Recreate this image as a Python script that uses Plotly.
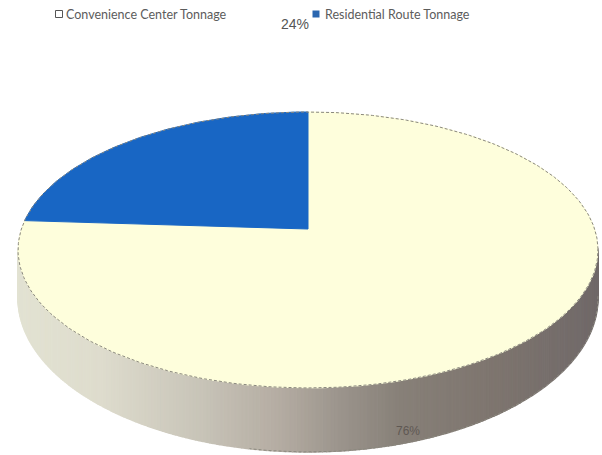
import numpy as np
import plotly.graph_objects as go

categories = ["Convenience Center Tonnage", "Residential Route Tonnage"]
shares = [76, 24]
labels = ["76%", "24%"]
colors = ["#FEFEDC", "#1866C4"]

CX, CY, A, B, P, DEPTH = 308, 229, 286.6, 134.8, 0.152, 46


def rim(theta_deg, drop=False):
    t = np.radians(np.asarray(theta_deg, dtype=float))
    u, v = np.sin(t), np.cos(t)
    w = 1 + P * v
    x = CX + A * u / w
    y = CY - B * v / w
    if drop:
        y = y + DEPTH / w ** 2
    return x, y


def side_color(x):
    px = [20, 100, 200, 280, 340, 400, 500, 597]
    r = [226, 222, 200, 180, 155, 135, 125, 112]
    g = [226, 220, 196, 172, 148, 128, 116, 105]
    b = [210, 205, 184, 162, 140, 120, 110, 105]
    return f"rgb({np.interp(x, px, r):.0f},{np.interp(x, px, g):.0f},{np.interp(x, px, b):.0f})"


fig = go.Figure()

# Side wall, split into narrow strips for the horizontal shading
edges = np.linspace(-262, -98, 261)
for a0, a1 in zip(edges[:-1], edges[1:]):
    th = np.linspace(a0, a1, 3)
    xt, yt = rim(th)
    xb, yb = rim(th, drop=True)
    col = side_color(float(xt.mean()))
    fig.add_trace(go.Scatter(
        x=np.r_[xt, xb[::-1]], y=np.r_[yt, yb[::-1]], mode="lines", fill="toself",
        fillcolor=col, line=dict(color=col, width=1.5), hoverinfo="skip", showlegend=False))

# Top face slices, from the shares
residential_end = 360 * shares[1] / sum(shares)
th_res = np.linspace(-residential_end, 0, 80)
th_conv = np.linspace(0, 360 - residential_end, 240)
for th, col in ((th_conv, colors[0]), (th_res, colors[1])):
    x, y = rim(th)
    fig.add_trace(go.Scatter(
        x=np.r_[CX, x, CX], y=np.r_[CY, y, CY], mode="lines", fill="toself",
        fillcolor=col, line=dict(color=col, width=1), hoverinfo="skip", showlegend=False))

# Dashed outlines
x, y = rim(np.linspace(-262, 98, 361))
fig.add_trace(go.Scatter(x=x, y=y, mode="lines", line=dict(color="#8a887e", width=1, dash="3px,2px"),
                         hoverinfo="skip", showlegend=False))
x, y = rim(np.linspace(-262, -170, 100), drop=True)
fig.add_trace(go.Scatter(x=x, y=y, mode="lines", line=dict(color="#8a887e", width=1, dash="3px,2px"),
                         hoverinfo="skip", showlegend=False))

# Legend swatches
fig.add_trace(go.Scatter(x=[59], y=[14], mode="markers",
                         marker=dict(symbol="square", size=7, color="#FFFFFF", line=dict(color="#555555", width=1)),
                         hoverinfo="skip", showlegend=False))
fig.add_trace(go.Scatter(x=[316], y=[14], mode="markers",
                         marker=dict(symbol="square", size=7, color="#2A66B0", line=dict(width=0)),
                         hoverinfo="skip", showlegend=False))

ann = [
    dict(x=64, y=14, text=categories[0], font=dict(family="Lato", size=12.5, color="#5c5c5c"), xanchor="left"),
    dict(x=323, y=14, text=categories[1], font=dict(family="Lato", size=12.5, color="#5c5c5c"), xanchor="left"),
    dict(x=295, y=24, text=labels[1], font=dict(family="Liberation Sans", size=14, color="#555555"), xanchor="center"),
    dict(x=408, y=431, text=labels[0], font=dict(family="Liberation Sans", size=12, color="#5f5853"), xanchor="center"),
]
for a in ann:
    a.update(showarrow=False, xref="x", yref="y", yanchor="middle")

fig.update_layout(
    width=602, height=455, margin=dict(l=0, r=0, t=0, b=0),
    paper_bgcolor="white", plot_bgcolor="white", showlegend=False, annotations=ann,
    xaxis=dict(range=[0, 602], visible=False, fixedrange=True),
    yaxis=dict(range=[455, 0], visible=False, fixedrange=True),
)
fig.write_html("out.html", config=dict(displayModeBar=False),
               post_script="document.body.style.margin='0';document.body.style.overflow='hidden';")
